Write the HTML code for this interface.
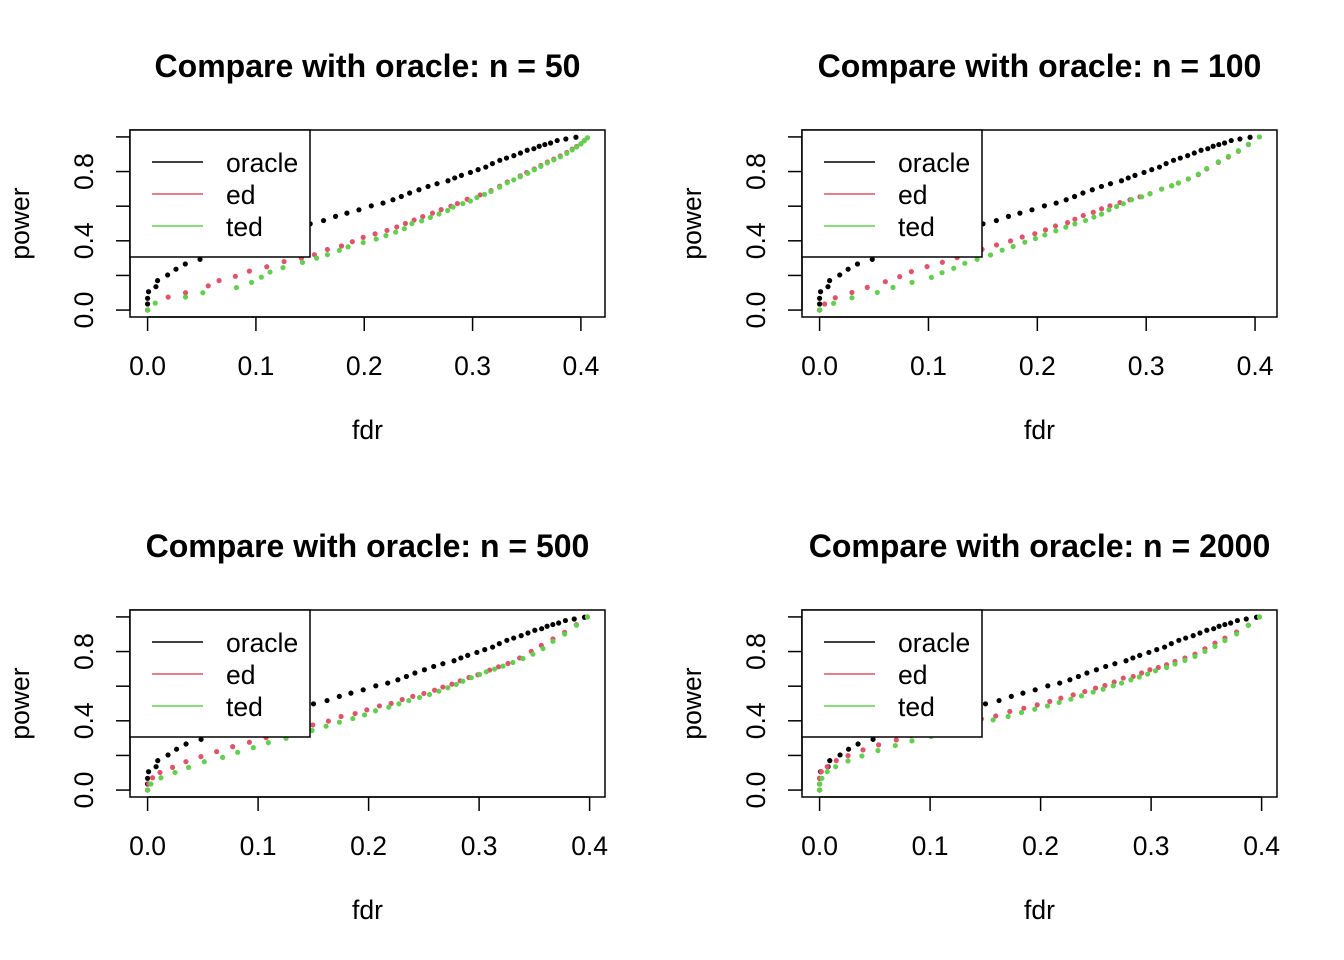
<!DOCTYPE html>
<html><head><meta charset="utf-8"><style>
body{margin:0;background:#fff}
svg{display:block;font-family:"Liberation Sans",Arial,sans-serif}
</style></head><body>
<svg id="c" width="1344" height="960" viewBox="0 0 1344 960"></svg>
<script>
const panelTitles = ["Compare with oracle: n = 50","Compare with oracle: n = 100","Compare with oracle: n = 500","Compare with oracle: n = 2000"];
const xTicks = [0,0.1,0.2,0.3,0.4];
const xTickLabels = ["0.0","0.1","0.2","0.3","0.4"];
const yTicks = [0,0.2,0.4,0.6,0.8,1.0];
const yTickLabels = ["0.0","","0.4","","0.8",""];
const seriesNames = ["oracle","ed","ted"];
const seriesColors = ["#000000","#DF536B","#61D04F"];
const oracleFdr = [0,0,0,0.0009,0.0077,0.0092,0.0185,0.0262,0.0348,0.0484,0.07,0.1,0.13,0.1501,0.1624,0.1735,0.184,0.1951,0.2065,0.2173,0.2265,0.2342,0.2419,0.2505,0.2589,0.2672,0.2773,0.2835,0.2897,0.298,0.3051,0.3122,0.3183,0.3251,0.3313,0.3381,0.3442,0.3504,0.3566,0.3615,0.3667,0.372,0.3781,0.3861,0.3954];
const oraclePower = [0,0.035,0.068,0.106,0.135,0.17,0.203,0.236,0.266,0.293,0.33,0.37,0.42,0.498,0.517,0.541,0.56,0.579,0.602,0.618,0.637,0.656,0.676,0.695,0.714,0.73,0.747,0.763,0.778,0.795,0.811,0.826,0.846,0.865,0.878,0.892,0.907,0.923,0.932,0.946,0.956,0.965,0.979,0.988,0.998];
const ed1Fdr = [0,.019,.035,.056,.066,.081,.094,.11,.126,.142,.154,.166,.179,.189,.199,.21,.221,.23,.238,.246,.254,.263,.271,.28,.286,.295,.307,.317,.325,.332,.344,.35,.357,.363,.369,.375,.381,.387,.392,.396,.4,.403,.406];
const ed1Power = [0,.075,.10,.14,.17,.195,.225,.25,.28,.30,.32,.35,.37,.395,.42,.44,.46,.48,.50,.52,.54,.56,.58,.60,.615,.64,.665,.69,.715,.74,.775,.795,.815,.835,.855,.872,.89,.91,.93,.945,.96,.978,.995];
const ted1Fdr = [0,.007,.035,.051,.082,.096,.105,.113,.125,.143,.156,.166,.177,.185,.199,.211,.22,.229,.237,.244,.253,.261,.269,.277,.282,.291,.298,.304,.311,.317,.325,.332,.338,.344,.351,.357,.363,.369,.375,.381,.387,.392,.396,.4,.403,.406];
const ted1Power = [0,.04,.075,.10,.13,.16,.19,.22,.245,.275,.30,.32,.345,.365,.39,.41,.43,.45,.47,.50,.515,.535,.555,.575,.595,.615,.63,.65,.668,.685,.71,.735,.752,.77,.79,.81,.83,.85,.867,.885,.905,.925,.942,.96,.978,.995];
const ed2Fdr = [0,.0046,.0144,.0297,.0438,.0604,.0736,.0843,.0987,.1128,.1263,.1404,.1493,.1625,.1754,.1861,.1977,.2075,.2167,.2278,.2345,.2422,.2514,.259,.2667,.2759,.2851,.2943,.3035,.3142,.3234,.3296,.3387,.3479,.3556,.3663,.3755,.3847,.3939,.404];
const ed2Power = [0,.035,.071,.102,.131,.164,.193,.222,.251,.276,.303,.328,.351,.376,.399,.422,.441,.463,.486,.505,.525,.546,.565,.585,.602,.621,.637,.654,.672,.699,.718,.734,.757,.782,.815,.853,.884,.917,.956,1];
const ted2Fdr = [0,.0129,.0297,.053,.0674,.0849,.1027,.1125,.1232,.1334,.1447,.157,.1677,.1778,.1885,.1983,.2069,.217,.2262,.2345,.2443,.252,.259,.2658,.2728,.279,.2866,.2958,.3035,.3142,.3234,.3296,.3387,.3479,.3556,.3663,.3755,.3847,.3939,.404];
const ted2Power = [0,.039,.071,.102,.131,.160,.189,.216,.241,.270,.293,.318,.346,.367,.392,.413,.434,.458,.479,.498,.517,.537,.554,.579,.598,.614,.637,.654,.672,.699,.718,.734,.757,.785,.818,.856,.888,.92,.958,1];
const ed3Fdr = [0,.0009,.0045,.0112,.0226,.0347,.0483,.0625,.077,.0921,.1072,.1223,.1374,.1495,.1636,.1751,.1878,.1984,.2098,.2204,.2304,.24,.25,.2597,.2672,.2754,.2829,.2908,.2989,.3095,.3176,.3261,.3367,.3472,.3563,.3668,.3774,.388,.398];
const ed3Power = [0,.035,.071,.102,.131,.164,.193,.222,.251,.276,.303,.33,.355,.376,.398,.425,.442,.463,.486,.5,.523,.541,.558,.577,.595,.612,.631,.65,.666,.693,.712,.731,.763,.801,.836,.873,.911,.956,1];
const ted3Fdr = [0,.003,.0121,.0248,.0371,.0513,.0679,.0815,.0957,.1093,.1253,.1374,.1488,.1615,.1736,.1857,.1963,.2062,.2183,.2274,.2364,.2461,.2551,.2636,.2717,.2793,.2853,.2929,.3004,.3065,.314,.3216,.3306,.3397,.3487,.3578,.3668,.3774,.388,.398];
const ted3Power = [0,.035,.071,.102,.131,.164,.189,.218,.245,.274,.299,.32,.344,.369,.392,.413,.434,.458,.479,.498,.517,.535,.552,.571,.591,.61,.629,.649,.668,.683,.699,.716,.737,.76,.785,.817,.859,.901,.952,1];
const ed4Fdr = [0,0,.0015,.0069,.0151,.0257,.0393,.0534,.0694,.083,.098,.113,.131,.1464,.1594,.1721,.1848,.1969,.2083,.2183,.2295,.24,.2497,.2582,.2666,.2748,.2838,.2914,.2989,.3065,.314,.3216,.3306,.3397,.3487,.3578,.3668,.3774,.388,.398];
const ed4Power = [0,.068,.106,.135,.17,.199,.232,.261,.29,.315,.34,.365,.39,.411,.428,.454,.473,.492,.512,.531,.55,.569,.589,.604,.624,.647,.656,.676,.695,.708,.724,.743,.763,.785,.816,.849,.878,.913,.952,1];
const ted4Fdr = [0,0,.0021,.0069,.0145,.0257,.0383,.0528,.0685,.0836,.101,.119,.137,.157,.1706,.1827,.1947,.2062,.2168,.2274,.237,.2476,.2566,.2657,.2732,.2817,.2893,.2968,.304,.314,.3216,.3306,.3397,.3487,.3578,.3668,.3774,.388,.398];
const ted4Power = [0,.035,.068,.106,.135,.168,.197,.228,.257,.284,.31,.34,.37,.405,.425,.448,.467,.486,.506,.525,.544,.566,.583,.602,.618,.637,.653,.67,.689,.708,.728,.749,.772,.801,.83,.863,.902,.952,1];

const panelSeries = [
  [[oracleFdr,oraclePower],[ed1Fdr,ed1Power],[ted1Fdr,ted1Power]],
  [[oracleFdr,oraclePower],[ed2Fdr,ed2Power],[ted2Fdr,ted2Power]],
  [[oracleFdr,oraclePower],[ed3Fdr,ed3Power],[ted3Fdr,ted3Power]],
  [[oracleFdr,oraclePower],[ed4Fdr,ed4Power],[ted4Fdr,ted4Power]]
];
const svg = document.getElementById('c');
const NS = 'http://www.w3.org/2000/svg';
function mk(tag, attrs, parent, text){
  const e = document.createElementNS(NS, tag);
  for (const k in attrs) e.setAttribute(k, attrs[k]);
  if (text !== undefined) e.textContent = text;
  (parent || svg).appendChild(e);
  return e;
}
const origins = [[130,130],[802,130],[130,610],[802,610]];
const W = 475, H = 187;
panelSeries.forEach((ser, p) => {
  const [L, T] = origins[p];
  const g = mk('g', {});
  
  
  let xmin = Infinity, xmax = -Infinity;
  ser.forEach(s => s[0].forEach(v => { xmin = Math.min(xmin, v); xmax = Math.max(xmax, v); }));
  const xr = xmax - xmin, x0 = xmin - 0.04*xr, x1 = xmax + 0.04*xr;
  const y0 = -0.04, y1 = 1.04;
  const sx = v => L + (v - x0) / (x1 - x0) * W;
  const sy = v => T + H - (v - y0) / (y1 - y0) * H;
  const t = mk('text', {x: L + W/2, y: T - 53, 'text-anchor': 'middle', 'font-size': 32, 'font-weight': 'bold'}, g, panelTitles[p]);
  
  
  ser.forEach((s, si) => {
    const sg = mk('g', {fill: seriesColors[si]}, g);
    
    
    s[0].forEach((fx, i) => {
      const c = mk('circle', {cx: sx(fx), cy: sy(s[1][i]), r: 2.6}, sg);
      
      
    });
  });
  const box = mk('rect', {x: L, y: T, width: W, height: H, fill: 'none', stroke: '#000', 'stroke-width': 1.5}, g);
  
  
  const xa = mk('g', {}, g);
  
  
  mk('line', {x1: sx(xTicks[0]), x2: sx(xTicks[xTicks.length-1]), y1: T+H, y2: T+H, stroke: '#000', 'stroke-width': 1.5}, xa);
  xTicks.forEach((v, i) => {
    mk('line', {x1: sx(v), x2: sx(v), y1: T+H, y2: T+H+14, stroke: '#000', 'stroke-width': 1.5}, xa);
    const lb = mk('text', {x: sx(v), y: T+H+58, 'text-anchor': 'middle', 'font-size': 26.5}, xa, xTickLabels[i]);
    
    
  });
  const xl = mk('text', {x: L + W/2, y: T+H+122, 'text-anchor': 'middle', 'font-size': 26.5}, g, 'fdr');
  
  
  const ya = mk('g', {}, g);
  
  
  mk('line', {x1: L, x2: L, y1: sy(0), y2: sy(1), stroke: '#000', 'stroke-width': 1.5}, ya);
  yTicks.forEach((v, i) => {
    mk('line', {x1: L-14, x2: L, y1: sy(v), y2: sy(v), stroke: '#000', 'stroke-width': 1.5}, ya);
    if (yTickLabels[i]) {
      const lb = mk('text', {x: 0, y: 0, 'text-anchor': 'middle', 'font-size': 26.5, transform: `translate(${L-37},${sy(v)}) rotate(-90)`}, ya, yTickLabels[i]);
      
      
    }
  });
  const yl = mk('text', {x: 0, y: 0, 'text-anchor': 'middle', 'font-size': 26.5, transform: `translate(${L-101},${T+H/2}) rotate(-90)`}, g, 'power');
  
  
  const lg = mk('g', {}, g);
  
  
  mk('rect', {x: L, y: T, width: 180, height: 127, fill: '#fff', stroke: '#000', 'stroke-width': 1.5}, lg);
  seriesNames.forEach((nm, i) => {
    const yy = T + 32 + i*32;
    const e = mk('g', {}, lg);
    
    
    mk('line', {x1: L+22, x2: L+73, y1: yy, y2: yy, stroke: seriesColors[i], 'stroke-width': 1.5}, e);
    mk('text', {x: L+96, y: yy+10, 'font-size': 26.5}, e, nm);
  });
});
</script>
</body></html>
